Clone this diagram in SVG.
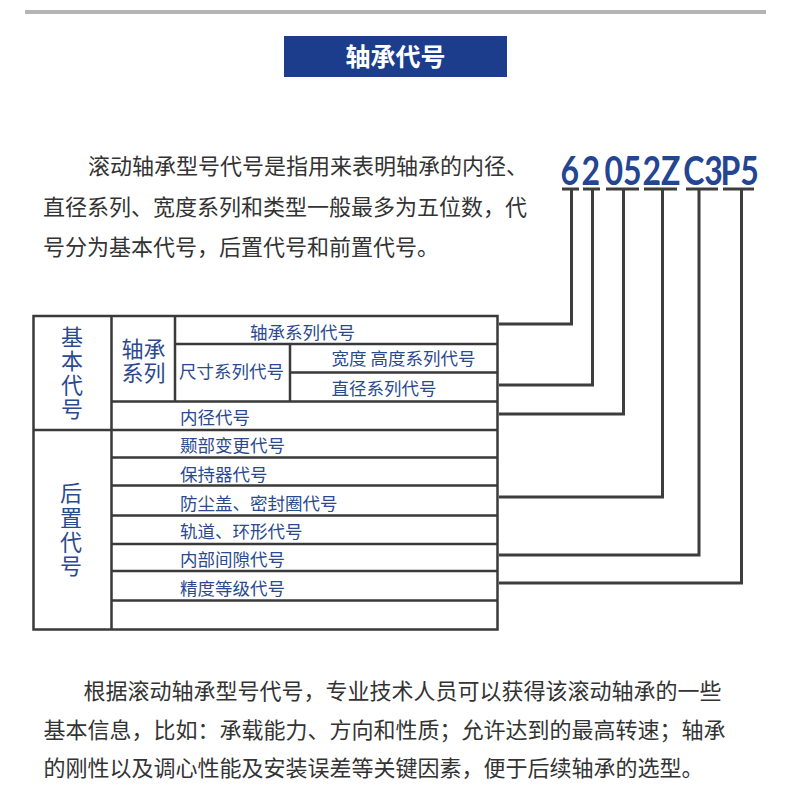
<svg xmlns="http://www.w3.org/2000/svg" width="790" height="792" viewBox="0 0 790 792">
<style>
.cjk{font-family:"Noto Sans CJK SC","Noto Sans",sans-serif}
.body{font-size:22px;fill:#333333}
.cell{font-size:17.5px;fill:#2b4a8e}
.big{font-size:22px;fill:#2b4a8e;text-anchor:middle}
.vert{font-size:22px;fill:#2b4a8e;writing-mode:vertical-rl;letter-spacing:2.2px}
.num{font-family:Lato,"Open Sans",sans-serif;font-weight:bold;font-size:41px;fill:#234592}
.tb{stroke:#3a3a3a;stroke-width:2.5;fill:none}
.conn{stroke:#3d3d3d;stroke-width:3;fill:none}
</style>
<rect width="790" height="792" fill="#ffffff"/>
<rect x="25" y="10" width="741" height="4" fill="#b5b5b5"/>
<g id="title">
<rect x="284" y="36" width="223" height="41" fill="#1b3d8b"/>
<text x="395.5" y="66" class="cjk" font-size="25" font-weight="bold" fill="#ffffff" text-anchor="middle">轴承代号</text>
</g>
<g id="intro" class="cjk body">
<text x="88" y="174">滚动轴承型号代号是指用来表明轴承的内径、</text>
<text x="43" y="215">直径系列、宽度系列和类型一般最多为五位数，代</text>
<text x="43" y="255">号分为基本代号，后置代号和前置代号。</text>
</g>
<g id="code">
<text class="num" transform="scale(0.78 1)" y="185"><tspan x="718.5">6</tspan><tspan x="745.4">2</tspan><tspan x="774.9">05</tspan><tspan x="823.6">2Z</tspan><tspan x="875.9">C3</tspan><tspan x="923.7">P5</tspan></text>
</g>
<g id="underlines" class="conn">
<path d="M562 189H579M583 189H600M606 189H639M644 189H677M686 189H718M723 189H754"/>
</g>
<g id="table">
<rect x="33.5" y="316" width="464" height="313.5" class="tb"/>
<path class="tb" d="M111.5 316V629.5M175 316V401.5M290 344V401.5M175 344H497.5M290 372.5H497.5M111.5 401.5H497.5M33.5 430H497.5M111.5 457.5H497.5M111.5 485.5H497.5M111.5 515.5H497.5M111.5 544H497.5M111.5 571H497.5M111.5 600.5H497.5"/>
</g>
<g id="basic">
<text class="cjk vert" x="72" y="325.5">基本代号</text>
</g>
<g id="series">
<text class="cjk big"><tspan x="143.5" y="356.5">轴承</tspan><tspan x="143.5" y="380.5">系列</tspan></text>
</g>
<g id="suffix">
<text class="cjk vert" x="71" y="482">后置代号</text>
</g>
<g id="cells" class="cjk cell">
<text x="250" y="339">轴承系列代号</text>
<text x="179" y="377.5">尺寸系列代号</text>
<text x="331.5" y="364.5">宽度 高度系列代号</text>
<text x="331.5" y="394.5">直径系列代号</text>
<text x="180" y="423.5">内径代号</text>
<text x="180" y="452">颞部变更代号</text>
<text x="180" y="480.5">保持器代号</text>
<text x="180" y="509.5">防尘盖、密封圈代号</text>
<text x="180" y="537.5">轨道、环形代号</text>
<text x="180" y="565.5">内部间隙代号</text>
<text x="180" y="594.5">精度等级代号</text>
</g>
<g id="connectors" class="conn">
<path d="M571.5 189V324H499"/>
<path d="M592.5 189V385H499"/>
<path d="M623.5 189V414H499"/>
<path d="M662.5 189V497H499"/>
<path d="M699 189V555H499"/>
<path d="M741.5 189V583H499"/>
</g>
<g id="summary" class="cjk body">
<text x="83.5" y="698.5">根据滚动轴承型号代号，专业技术人员可以获得该滚动轴承的一些</text>
<text x="43.5" y="738">基本信息，比如：承载能力、方向和性质；允许达到的最高转速；轴承</text>
<text x="43.5" y="775.5">的刚性以及调心性能及安装误差等关键因素，便于后续轴承的选型。</text>
</g>
</svg>
